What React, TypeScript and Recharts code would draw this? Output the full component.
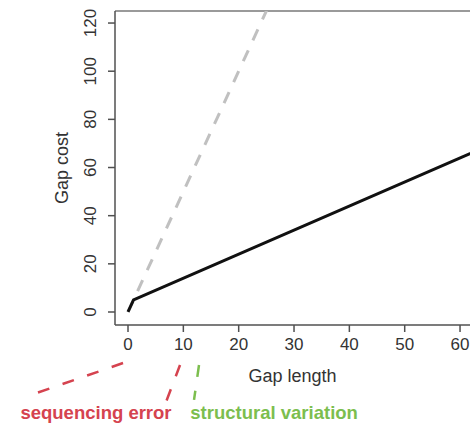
import React from 'react';
import {
  LineChart,
  Line,
  XAxis,
  YAxis,
  ReferenceLine,
  ReferenceDot,
} from 'recharts';

// gap cost curves
const affineCost = [
  { x: 0, y: 0 },
  { x: 1, y: 5 },
  { x: 70, y: 74 },
];
const linearCost = [
  { x: 0, y: 0 },
  { x: 30, y: 150 },
];

const xTicks = [0, 10, 20, 30, 40, 50, 60];
const yTicks = [0, 20, 40, 60, 80, 100, 120];
const yTop = 125;

// annotation pointers below the axis (data units)
const seqErrorPointers = [
  [{ x: -0.9, y: -21.2 }, { x: -18.6, y: -35.3 }],
  [{ x: 9.4, y: -22.0 }, { x: 6.87, y: -37.4 }],
];
const svPointers = [[{ x: 12.83, y: -22.0 }, { x: 11.93, y: -36.5 }]];

const annotationLabels = [
  { x: -5.78, y: -41.9, text: 'sequencing error', color: '#d5434f' },
  { x: 26.4, y: -41.9, text: 'structural variation', color: '#7cbe4e' },
];

const FONT = '"Liberation Sans", Arial, Helvetica, sans-serif';
const AXIS = '#505050';

const YTick = (props: any) => {
  const { x, y, payload } = props;
  return (
    <text
      transform={`translate(${x - 16},${y}) rotate(-90)`}
      textAnchor="middle"
      dominantBaseline="central"
      fill="#333"
      fontSize={17}
      fontFamily={FONT}
    >
      {payload.value}
    </text>
  );
};

const YLabel = (props: any) => {
  const { viewBox } = props;
  const cx = viewBox.x + 62;
  const cy = viewBox.y + viewBox.height / 2;
  return (
    <text
      transform={`translate(${cx},${cy}) rotate(-90)`}
      textAnchor="middle"
      dominantBaseline="central"
      fill="#333"
      fontSize={18}
      fontFamily={FONT}
    >
      Gap cost
    </text>
  );
};

export default function App() {
  return (
    <div style={{ position: 'absolute', left: 0, top: 0, width: 470, height: 425, background: '#fff' }}>
      <LineChart width={470} height={425} margin={{ top: 11, right: 0, left: 0, bottom: 0 }}>
        <XAxis
          type="number"
          dataKey="x"
          domain={[-2.35, 61.8]}
          allowDataOverflow
          ticks={xTicks}
          height={100}
          tickSize={7}
          tickMargin={6}
          interval={0}
          axisLine={{ stroke: AXIS, strokeWidth: 1.5 }}
          tickLine={{ stroke: AXIS, strokeWidth: 1.5 }}
          tick={{ fill: '#333', fontSize: 17, fontFamily: FONT }}
          label={{
            value: 'Gap length',
            position: 'insideTop',
            offset: 44,
            fill: '#333',
            fontSize: 18,
            fontFamily: FONT,
          }}
        />
        <YAxis
          type="number"
          domain={[-5.4, yTop]}
          allowDataOverflow
          ticks={yTicks}
          width={115}
          tickSize={7}
          interval={0}
          axisLine={{ stroke: AXIS, strokeWidth: 1.5 }}
          tickLine={{ stroke: AXIS, strokeWidth: 1.5 }}
          tick={<YTick />}
          label={<YLabel />}
        />

        <ReferenceLine y={yTop} ifOverflow="visible" stroke="#9a9a9a" strokeWidth={2} />

        <Line
          data={linearCost}
          dataKey="y"
          stroke="#c0c0c0"
          strokeWidth={3}
          strokeDasharray="12 11"
          dot={false}
          activeDot={false}
          isAnimationActive={false}
        />
        <Line
          data={affineCost}
          dataKey="y"
          stroke="#111"
          strokeWidth={3}
          dot={false}
          activeDot={false}
          isAnimationActive={false}
        />

        {seqErrorPointers.map((seg, i) => (
          <ReferenceLine
            key={'se' + i}
            segment={seg}
            ifOverflow="visible"
            stroke="#d5434f"
            strokeWidth={2.5}
            strokeDasharray="12 14"
          />
        ))}
        {svPointers.map((seg, i) => (
          <ReferenceLine
            key={'sv' + i}
            segment={seg}
            ifOverflow="visible"
            stroke="#7cbe4e"
            strokeWidth={2.5}
            strokeDasharray="12 14"
          />
        ))}
        {annotationLabels.map((a) => (
          <ReferenceDot
            key={a.text}
            x={a.x}
            y={a.y}
            r={0}
            ifOverflow="visible"
            fill="none"
            stroke="none"
            label={{
              value: a.text,
              position: 'center',
              fill: a.color,
              fontSize: 18.5,
              fontWeight: 'bold',
              fontFamily: FONT,
            }}
          />
        ))}
      </LineChart>
    </div>
  );
}
